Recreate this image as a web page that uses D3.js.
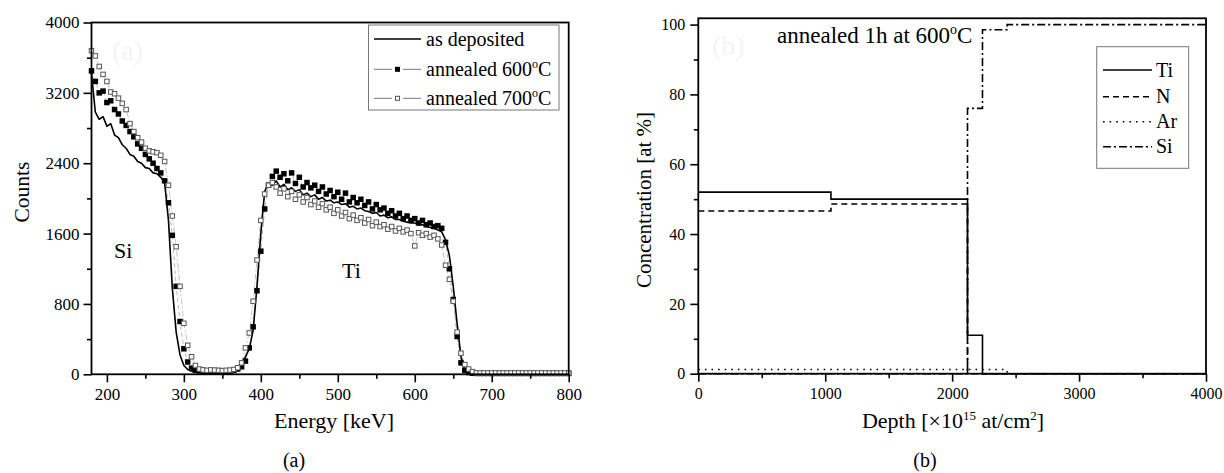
<!DOCTYPE html>
<html>
<head>
<meta charset="utf-8">
<script src="https://cdn.jsdelivr.net/npm/d3@7"></script>
<style>
  body { margin: 0; background: #fff; }
  svg { display: block; }
  text { font-family: "Liberation Serif", "Times New Roman", serif; fill: #000; }
</style>
</head>
<body>
<svg id="chart" width="1224" height="473"></svg>
<script>
// ---- panel (a): RBS spectra ----
const energy = [180,185,190,195,200,205,210,215,220,225,230,235,240,245,250,255,260,265,270,275,
  280,285,290,295,300,305,310,315,320,325,330,335,340,345,350,355,360,365,370,375,
  380,385,390,395,400,405,410,415,420,425,430,435,440,445,450,455,460,465,470,475,
  480,485,490,495,500,505,510,515,520,525,530,535,540,545,550,555,560,565,570,575,
  580,585,590,595,600,605,610,615,620,625,630,635,640,645,650,655,660,665,670,675,
  680,685,690,695,700,705,710,715,720,725,730,735,740,745,750,755,760,765,770,775,
  780,785,790,795,800]

const asDeposited = [3420,2980,2900,2930,2820,2850,2720,2690,2610,2570,2500,2480,2420,2400,2350,2340,2290,2280,2240,2180,
  1750,980,480,220,100,55,35,28,25,22,20,22,20,18,20,22,25,35,60,110,
  200,290,500,1000,1600,2080,2170,2150,2200,2130,2160,2100,2120,2080,2100,2040,2060,2020,2040,1990,
  2010,1970,1980,1950,1960,1930,1940,1900,1910,1880,1890,1860,1850,1830,1840,1800,1810,1780,1790,1760,
  1760,1740,1730,1720,1720,1700,1700,1680,1670,1660,1640,1620,1530,1350,1000,580,200,50,15,8,
  5,5,5,5,5,5,5,5,5,5,5,5,5,5,5,5,5,5,5,5,
  5,5,5,5,5]

const annealed600 = [3450,3330,3200,3220,3090,3110,3010,2960,2880,2830,2760,2700,2620,2570,2500,2450,2400,2340,2290,2200,
  1950,1580,1000,600,290,140,70,45,38,35,30,32,30,28,30,32,35,45,60,85,
  150,300,540,950,1400,1880,2150,2250,2310,2240,2280,2200,2290,2170,2240,2130,2180,2120,2150,2080,
  2130,2050,2090,2020,2070,1990,2060,1960,2010,1950,1990,1920,1960,1880,1930,1870,1890,1830,1860,1800,
  1830,1770,1800,1750,1770,1720,1750,1700,1720,1680,1690,1660,1500,1200,850,430,130,45,20,12,
  10,10,10,10,10,10,10,10,10,10,10,10,10,10,10,10,10,10,10,10,
  10,10,10,10,10]

const annealed700 = [3680,3620,3500,3410,3330,3210,3190,3140,3080,3010,2850,2760,2690,2640,2570,2540,2530,2520,2490,2420,
  2150,1800,1450,1000,580,330,200,100,60,50,45,50,48,45,42,45,48,55,75,130,
  300,470,830,1300,1750,2050,2150,2180,2130,2060,2110,2020,2080,1990,2040,1960,2010,1930,1970,1900,
  1940,1870,1900,1830,1870,1800,1840,1770,1810,1750,1780,1720,1760,1690,1730,1680,1700,1650,1680,1630,
  1660,1620,1640,1600,1460,1610,1580,1600,1560,1580,1540,1470,1240,1080,830,480,240,110,60,30,
  15,15,15,15,15,15,15,15,15,15,15,15,15,15,15,15,15,15,15,15,
  15,15,15,15,15]

const energyTicks = [200,300,400,500,600,700,800]
const energyMinor = [250,350,450,550,650,750]
const countTicks = [0,800,1600,2400,3200,4000]
const countMinor = [400,1200,2000,2800,3600]
const legendA = ["as deposited", "annealed 600", "annealed 700"]

// ---- panel (b): depth profile, layer boundaries and concentrations ----
const depthEdges = [0,1045,2121,2239,2433,4000]
const tiConc = [52,50,11,0,0,0]
const nConc = [46.6,48.6,0,0,0,0]
const arConc = [1.2,1.2,1.2,1.2,0,0]
const siConc = [0,0,76,98.5,100,100]

const depthTicks = [0,1000,2000,3000,4000]
const depthMinor = [500,1500,2500,3500]
const concTicks = [0,20,40,60,80,100]
const concMinor = [10,30,50,70,90]
const legendB = ["Ti","N","Ar","Si"]

const serif = '"Liberation Serif", "Times New Roman", serif'
const svg = d3.select("#chart")

function frame(x0, x1, y0, y1) {
  svg.append("rect")
    .attr("x", x0).attr("y", y1)
    .attr("width", x1 - x0).attr("height", y0 - y1)
    .attr("fill", "none").attr("stroke", "#000").attr("stroke-width", 1.8)
}

function addAxes(x, y, xt, xm, yt, ym, fs, ypad) {
  const y0 = y.range()[0], x0 = x.range()[0]
  const gx = svg.append("g").attr("transform", `translate(0,${y0})`)
    .call(d3.axisBottom(x).tickValues(xt).tickSize(8).tickPadding(6).tickFormat(d3.format("d")))
  const gxm = svg.append("g").attr("transform", `translate(0,${y0})`)
    .call(d3.axisBottom(x).tickValues(xm).tickSize(4.5).tickFormat(""))
  const gy = svg.append("g").attr("transform", `translate(${x0},0)`)
    .call(d3.axisLeft(y).tickValues(yt).tickSize(8).tickPadding(ypad).tickFormat(d3.format("d")))
  const gym = svg.append("g").attr("transform", `translate(${x0},0)`)
    .call(d3.axisLeft(y).tickValues(ym).tickSize(4.5).tickFormat(""))
  ;[gx, gxm, gy, gym].forEach(g => {
    g.attr("font-family", serif).attr("font-size", fs)
    g.select(".domain").remove()
    g.selectAll("line").attr("stroke", "#000").attr("stroke-width", 1.6)
    g.selectAll("text")
      .style("font-family", serif)
      .style("font-size", fs + "px").attr("fill", "#000")
  })
}

// ======== (a) ========
const xA = d3.scaleLinear().domain([180, 800]).range([91.5, 568.7])
const yA = d3.scaleLinear().domain([0, 4000]).range([374.3, 22.5])

svg.append("text").attr("x", 112).attr("y", 60)
  .style("fill", "#f4f4f4").style("font-size", "28px").text("(a)")

const lineA = d3.line().x((d, i) => xA(energy[i])).y(d => yA(d))

svg.append("path").datum(annealed600).attr("d", lineA)
  .attr("fill", "none").attr("stroke", "#999").attr("stroke-width", 0.7)
  .attr("stroke-dasharray", "4,3")
svg.append("path").datum(annealed700).attr("d", lineA)
  .attr("fill", "none").attr("stroke", "#aaa").attr("stroke-width", 0.7)
  .attr("stroke-dasharray", "6,2,2,2")

svg.append("path").datum(asDeposited).attr("d", lineA)
  .attr("fill", "none").attr("stroke", "#000").attr("stroke-width", 1.6)
  .attr("stroke-linejoin", "round")

const ms = 5.5
svg.append("g").selectAll("rect").data(annealed600).join("rect")
  .attr("x", (d, i) => xA(energy[i]) - ms / 2)
  .attr("y", d => yA(d) - ms / 2)
  .attr("width", ms).attr("height", ms)
  .attr("fill", "#000")

svg.append("g").selectAll("rect").data(annealed700).join("rect")
  .attr("x", (d, i) => xA(energy[i]) - ms / 2 + 0.5)
  .attr("y", d => yA(d) - ms / 2 + 0.5)
  .attr("width", ms - 1).attr("height", ms - 1)
  .attr("fill", "#fff").attr("stroke", "#555").attr("stroke-width", 1)

frame(91.5, 568.7, 374.3, 22.5)
addAxes(xA, yA, energyTicks, energyMinor, countTicks, countMinor, 17, 4)

svg.append("text").attr("x", 334).attr("y", 428).attr("text-anchor", "middle")
  .style("font-size", "22px").text("Energy [keV]")
svg.append("text").attr("transform", "translate(29,192) rotate(-90)")
  .attr("text-anchor", "middle").style("font-size", "21.5px").text("Counts")
svg.append("text").attr("x", 114).attr("y", 258).style("font-size", "22px").text("Si")
svg.append("text").attr("x", 342).attr("y", 278).style("font-size", "22px").text("Ti")
svg.append("text").attr("x", 294).attr("y", 467).attr("text-anchor", "middle")
  .style("font-size", "20px").text("(a)")

// legend (a)
svg.append("rect").attr("x", 368.5).attr("y", 25).attr("width", 190.5).attr("height", 85)
  .attr("fill", "#fff").attr("stroke", "#777").attr("stroke-width", 1)
const legY = [39, 69.3, 98.3]
legendA.forEach((name, i) => {
  const ly = legY[i]
  if (i === 0) {
    svg.append("line").attr("x1", 374).attr("x2", 421).attr("y1", ly).attr("y2", ly)
      .attr("stroke", "#000").attr("stroke-width", 1.6)
  } else {
    svg.append("line").attr("x1", 374).attr("x2", 392).attr("y1", ly).attr("y2", ly)
      .attr("stroke", "#777").attr("stroke-width", 1)
    svg.append("line").attr("x1", 403).attr("x2", 421).attr("y1", ly).attr("y2", ly)
      .attr("stroke", "#777").attr("stroke-width", 1)
    if (i === 1) {
      svg.append("rect").attr("x", 395).attr("y", ly - 2.5).attr("width", 5).attr("height", 5)
        .attr("fill", "#000")
    } else {
      svg.append("rect").attr("x", 395.5).attr("y", ly - 2).attr("width", 4).attr("height", 4)
        .attr("fill", "#fff").attr("stroke", "#555")
    }
  }
  const t = svg.append("text").attr("x", 426).attr("y", ly + 6.5).style("font-size", "20px")
  t.append("tspan").text(name)
  if (i > 0) {
    t.append("tspan").attr("dy", -8).style("font-size", "12px").text("o")
    t.append("tspan").attr("dy", 8).text("C")
  }
})

// ======== (b) ========
const xB = d3.scaleLinear().domain([0, 4000]).range([698.3, 1206])
const yB = d3.scaleLinear().domain([0, 101.8]).range([373.7, 18.3])

svg.append("text").attr("x", 712).attr("y", 55)
  .style("fill", "#f4f4f4").style("font-size", "28px").text("(b)")

const stepLine = d3.line().curve(d3.curveStepAfter)
  .x((d, i) => xB(depthEdges[i])).y(d => yB(d))

const profiles = [
  { vals: tiConc, dash: null },
  { vals: nConc, dash: "6,4" },
  { vals: arConc, dash: "1.6,5" },
  { vals: siConc, dash: "8,3,2,3" },
]
profiles.forEach(p => {
  svg.append("path").datum(p.vals).attr("d", stepLine)
    .attr("fill", "none").attr("stroke", "#000").attr("stroke-width", 1.6)
    .attr("stroke-dasharray", p.dash)
})

frame(698.3, 1206, 373.7, 18.3)
addAxes(xB, yB, depthTicks, depthMinor, concTicks, concMinor, 16, 5)

const tb = svg.append("text").attr("x", 953).attr("y", 428).attr("text-anchor", "middle")
  .style("font-size", "22px")
tb.append("tspan").text("Depth [\u00d710")
tb.append("tspan").attr("dy", -8).style("font-size", "13px").text("15")
tb.append("tspan").attr("dy", 8).text(" at/cm")
tb.append("tspan").attr("dy", -8).style("font-size", "13px").text("2")
tb.append("tspan").attr("dy", 8).text("]")

svg.append("text").attr("transform", "translate(651,200) rotate(-90)")
  .attr("text-anchor", "middle").style("font-size", "21px").text("Concentration [at %]")

const ann = svg.append("text").attr("x", 777).attr("y", 43).style("font-size", "23px")
ann.append("tspan").text("annealed 1h at 600")
ann.append("tspan").attr("dy", -9).style("font-size", "14px").text("o")
ann.append("tspan").attr("dy", 9).text("C")

svg.append("text").attr("x", 925).attr("y", 467).attr("text-anchor", "middle")
  .style("font-size", "20px").text("(b)")

// legend (b)
svg.append("rect").attr("x", 1096.7).attr("y", 46.7).attr("width", 92).attr("height", 121.6)
  .attr("fill", "#fff").attr("stroke", "#777").attr("stroke-width", 1)
const legYB = [70, 96.7, 121.7, 146.7]
legendB.forEach((name, i) => {
  svg.append("line").attr("x1", 1103).attr("x2", 1152).attr("y1", legYB[i]).attr("y2", legYB[i])
    .attr("stroke", "#000").attr("stroke-width", 1.6)
    .attr("stroke-dasharray", profiles[i].dash)
  svg.append("text").attr("x", 1156).attr("y", legYB[i] + 6.5)
    .style("font-size", "20px").text(name)
})
</script>
</body>
</html>
